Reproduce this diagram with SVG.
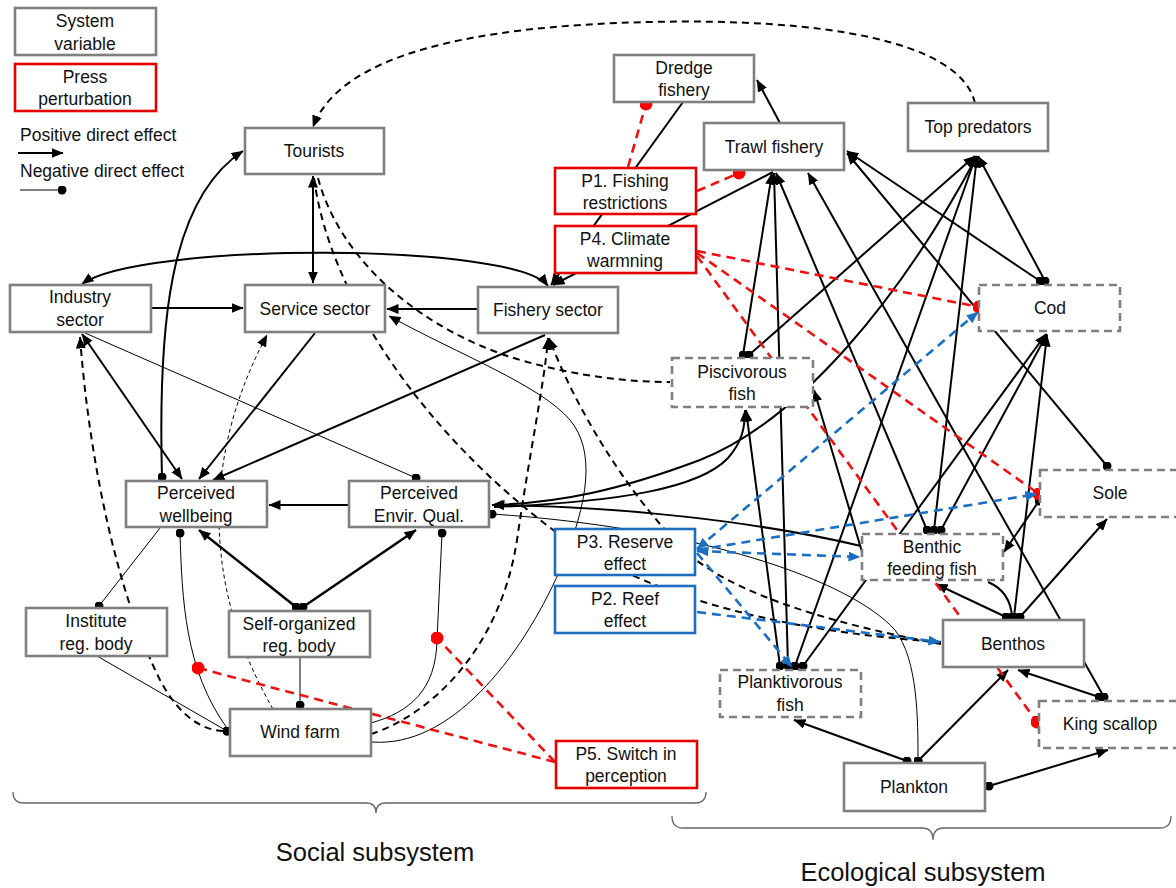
<svg xmlns="http://www.w3.org/2000/svg" width="1176" height="888" viewBox="0 0 1176 888">
<style>
text{font-family:"Liberation Sans",Arial,sans-serif;font-size:17.5px;fill:#111;text-anchor:middle}
.lg{text-anchor:start}
.big{font-size:25.5px}
.n rect{fill:#fff;stroke:#7f7f7f;stroke-width:2.6}
.n.dash rect{stroke-dasharray:8,5}
.n.red rect{stroke:#e60000}
.n.blue rect{stroke:#1f6dc0}
#connectors path{fill:none;stroke:#000}
#connectors .s{stroke-width:2}
#connectors .t{stroke-width:1}
#connectors .td{stroke-width:1;stroke-dasharray:4,3}
#connectors .d{stroke-width:2;stroke-dasharray:7,5}
#connectors .r{stroke:#ee1111;stroke-width:2.6;stroke-dasharray:9,6}
#connectors .b{stroke:#1a6fc4;stroke-width:2.6;stroke-dasharray:9,6}
.br{fill:none;stroke:#666;stroke-width:1.3}
</style>
<defs>
<marker id="ah" viewBox="0 0 12 10" refX="11.5" refY="5" markerWidth="12" markerHeight="10" markerUnits="userSpaceOnUse" orient="auto-start-reverse"><path d="M0,0 L12,5 L0,10 z" fill="#000"/></marker>
<marker id="bh" viewBox="0 0 12 10" refX="11.5" refY="5" markerWidth="12" markerHeight="10" markerUnits="userSpaceOnUse" orient="auto-start-reverse"><path d="M0,0 L12,5 L0,10 z" fill="#1a6fc4"/></marker>
<marker id="dot" viewBox="0 0 10 10" refX="5" refY="5" markerWidth="9" markerHeight="9" markerUnits="userSpaceOnUse"><circle cx="5" cy="5" r="5" fill="#000"/></marker>
<marker id="rdot" viewBox="0 0 10 10" refX="5" refY="5" markerWidth="13" markerHeight="13" markerUnits="userSpaceOnUse"><circle cx="5" cy="5" r="5" fill="#ff0000"/></marker>
</defs>
<rect width="1176" height="888" fill="#fff"/>

<g id="connectors">
<!-- solid black -->
<path class="s" d="M313,176 L313,283" marker-start="url(#ah)" marker-end="url(#ah)"/>
<path class="s" d="M151,308 L243,308" marker-end="url(#ah)"/>
<path class="s" d="M478,309 L387,309" marker-end="url(#ah)"/>
<path class="s" d="M548,286 C515,242 140,242 82,284" marker-start="url(#ah)" marker-end="url(#ah)"/>
<path class="s" d="M683,102 L551,285" marker-end="url(#ah)"/>
<path class="s" d="M773,172 L553,285" marker-end="url(#ah)"/>
<path class="s" d="M780,123 L757,80" marker-end="url(#ah)"/>
<path class="s" d="M82,334 L182,479" marker-start="url(#ah)" marker-end="url(#ah)"/>
<path class="s" d="M315,333 L199,479" marker-end="url(#ah)"/>
<path class="s" d="M545,335 L213,480" marker-end="url(#ah)"/>
<path class="s" d="M162,477 C158,330 168,200 243,151" marker-start="url(#dot)" marker-end="url(#ah)"/>
<path class="s" d="M349,505 L269,505" marker-end="url(#ah)"/>
<path class="s" style="stroke-width:2.5" d="M296,607 L199,530" marker-start="url(#dot)" marker-end="url(#ah)"/>
<path class="s" style="stroke-width:2.5" d="M303,607 L416,530" marker-start="url(#dot)" marker-end="url(#ah)"/>
<path class="s" d="M977,156 C900,300 800,420 700,460 C620,490 560,503 492,505" marker-end="url(#ah)"/>
<path class="s" d="M494,507 C620,502 700,488 728,458 C742,442 745,428 745,410" marker-end="url(#ah)"/>
<path class="s" d="M861,546 C760,522 620,506 493,505" marker-end="url(#ah)"/>
<path class="s" d="M862,552 L814,390" marker-end="url(#ah)"/>
<path class="s" d="M780,666 L746,410" marker-start="url(#dot)" marker-end="url(#ah)"/>
<path class="s" d="M788,666 L774,173" marker-start="url(#dot)" marker-end="url(#ah)"/>
<path class="s" d="M795,666 L976,156" marker-start="url(#dot)" marker-end="url(#ah)"/>
<path class="s" d="M803,666 L1046,334" marker-start="url(#dot)" marker-end="url(#ah)"/>
<path class="s" d="M743,355 L772,173" marker-start="url(#dot)" marker-end="url(#ah)"/>
<path class="s" d="M749,355 L975,156" marker-start="url(#dot)" marker-end="url(#ah)"/>
<path class="s" d="M927,530 L776,173" marker-start="url(#dot)" marker-end="url(#ah)"/>
<path class="s" d="M934,530 L977,156" marker-start="url(#dot)" marker-end="url(#ah)"/>
<path class="s" d="M941,530 L1047,334" marker-start="url(#dot)" marker-end="url(#ah)"/>
<path class="s" d="M1045,281 L978,156" marker-start="url(#dot)" marker-end="url(#ah)"/>
<path class="s" d="M1040,281 L847,151" marker-start="url(#dot)" marker-end="url(#ah)"/>
<path class="s" d="M1107,466 L847,153" marker-start="url(#dot)" marker-end="url(#ah)"/>
<path class="s" d="M1039,501 L1004,552" marker-start="url(#dot)" marker-end="url(#ah)"/>
<path class="s" d="M1006,617 L936,584" marker-start="url(#dot)" marker-end="url(#ah)"/>
<path class="s" d="M1012,617 C1011,600 1002,588 988,582" marker-start="url(#dot)"/>
<path class="s" d="M1014,617 L1047,335" marker-start="url(#dot)" marker-end="url(#ah)"/>
<path class="s" d="M1020,617 L1107,519" marker-start="url(#dot)" marker-end="url(#ah)"/>
<path class="s" d="M1104,697 L808,173" marker-start="url(#dot)" marker-end="url(#ah)"/>
<path class="s" d="M1099,697 L1018,670" marker-start="url(#dot)" marker-end="url(#ah)"/>
<path class="s" d="M907,761 L794,720" marker-start="url(#dot)" marker-end="url(#ah)"/>
<path class="s" d="M918,761 L1008,670" marker-start="url(#dot)" marker-end="url(#ah)"/>
<path class="s" d="M989,786 L1108,750" marker-start="url(#dot)" marker-end="url(#ah)"/>
<!-- thin -->
<path class="t" d="M492,514 C700,528 850,580 895,630 C918,660 918,720 918,761" marker-start="url(#dot)" marker-end="url(#dot)"/>
<path class="t" d="M85,333 L416,478" marker-end="url(#dot)"/>
<path class="t" d="M372,742 C450,748 520,660 560,570 C590,500 595,450 570,420 C540,385 460,355 389,316" marker-end="url(#ah)"/>
<path class="t" d="M371,723 C410,712 436,690 437,640 L442,533" marker-end="url(#dot)"/>
<path class="t" d="M160,528 L99,606" marker-end="url(#dot)"/>
<path class="t" d="M97,656 L227,731" marker-end="url(#dot)"/>
<path class="t" d="M180,533 C182,600 185,670 227,728" marker-start="url(#dot)"/>
<path class="t" d="M300,657 L300,705" marker-end="url(#dot)"/>
<path class="td" d="M273,709 C210,600 195,470 267,335" marker-end="url(#ah)"/>
<!-- dashed black -->
<path class="d" d="M975,103 C960,40 820,18 650,22 C470,26 340,55 313,127" marker-end="url(#ah)"/>
<path class="d" d="M80,337 C90,470 120,600 160,680 C180,718 205,732 227,731" marker-start="url(#ah)" marker-end="url(#dot)"/>
<path class="d" d="M318,178 C340,260 420,330 520,360 C580,377 630,382 670,382"/>
<path class="d" d="M314,178 C330,300 430,440 560,535 C640,590 760,630 941,642"/>
<path class="d" d="M371,734 C430,715 500,650 517,540 C530,450 545,380 548,338" marker-end="url(#ah)"/>
<path class="d" d="M941,644 C820,622 730,590 690,555 C640,510 580,420 549,338" marker-end="url(#ah)"/>
<!-- red dashed -->
<path class="r" d="M628,167 L646,104" marker-end="url(#rdot)"/>
<path class="r" d="M697,191 L739,173" marker-end="url(#rdot)"/>
<path class="r" d="M697,251 L979,307" marker-end="url(#rdot)"/>
<path class="r" d="M697,253 L1039,494" marker-end="url(#rdot)"/>
<path class="r" d="M697,256 L1037,722" marker-end="url(#rdot)"/>
<path class="r" d="M555,762 L198,668" marker-end="url(#rdot)"/>
<path class="r" d="M555,762 L437,638" marker-end="url(#rdot)"/>
<!-- blue dashed -->
<path class="b" d="M697,549 L978,312" marker-start="url(#bh)" marker-end="url(#bh)"/>
<path class="b" d="M697,550 L1037,494" marker-end="url(#bh)"/>
<path class="b" d="M697,551 L860,557" marker-start="url(#bh)" marker-end="url(#bh)"/>
<path class="b" d="M697,553 L792,667" marker-end="url(#bh)"/>
<path class="b" d="M697,612 L940,642" marker-end="url(#bh)"/>
<!-- legend samples -->
<path class="s" d="M18,153 L63,153" marker-end="url(#ah)"/>
<path class="t" d="M20,190 L62,190" marker-end="url(#dot)"/>
</g>

<g id="legend-system" class="n"><rect x="15" y="8" width="141" height="47"/><text x="85" y="27">System</text><text x="85" y="50">variable</text></g>
<g id="legend-press" class="n red"><rect x="15" y="64" width="141" height="47"/><text x="85" y="83">Press</text><text x="85" y="105">perturbation</text></g>
<text class="lg" x="20" y="141">Positive direct effect</text>
<text class="lg" x="20" y="177">Negative direct effect</text>

<g id="tourists" class="n"><rect x="245" y="128" width="139" height="46"/><text x="314" y="157">Tourists</text></g>
<g id="dredge" class="n"><rect x="614" y="55" width="140" height="47"/><text x="684" y="74">Dredge</text><text x="684" y="96">fishery</text></g>
<g id="trawl" class="n"><rect x="704" y="123" width="140" height="47"/><text x="774" y="153">Trawl fishery</text></g>
<g id="top-predators" class="n"><rect x="908" y="103" width="140" height="48"/><text x="978" y="133">Top predators</text></g>
<g id="p1" class="n red"><rect x="555" y="168" width="141" height="46"/><text x="625" y="187">P1. Fishing</text><text x="625" y="209">restrictions</text></g>
<g id="p4" class="n red"><rect x="555" y="226" width="141" height="47"/><text x="625" y="245">P4. Climate</text><text x="625" y="267">warmning</text></g>
<g id="industry" class="n"><rect x="10" y="285" width="141" height="47"/><text x="80" y="303">Industry</text><text x="80" y="326">sector</text></g>
<g id="service" class="n"><rect x="245" y="285" width="140" height="47"/><text x="315" y="315">Service sector</text></g>
<g id="fishery" class="n"><rect x="478" y="287" width="140" height="46"/><text x="548" y="316">Fishery sector</text></g>
<g id="cod" class="n dash"><rect x="979" y="285" width="141" height="46"/><text x="1050" y="314">Cod</text></g>
<g id="piscivorous" class="n dash"><rect x="672" y="358" width="141" height="49"/><text x="742" y="378">Piscivorous</text><text x="742" y="400">fish</text></g>
<g id="wellbeing" class="n"><rect x="126" y="481" width="141" height="46"/><text x="196" y="499">Perceived</text><text x="196" y="522">wellbeing</text></g>
<g id="envqual" class="n"><rect x="349" y="481" width="140" height="46"/><text x="419" y="499">Perceived</text><text x="419" y="522">Envir. Qual.</text></g>
<g id="p3" class="n blue"><rect x="555" y="529" width="140" height="46"/><text x="625" y="548">P3. Reserve</text><text x="625" y="570">effect</text></g>
<g id="benthic" class="n dash"><rect x="862" y="534" width="141" height="46"/><text x="932" y="553">Benthic</text><text x="932" y="575">feeding fish</text></g>
<g id="sole" class="n dash"><rect x="1040" y="470" width="145" height="47"/><text x="1110" y="499">Sole</text></g>
<g id="p2" class="n blue"><rect x="555" y="586" width="140" height="47"/><text x="625" y="605">P2. Reef</text><text x="625" y="627">effect</text></g>
<g id="institute" class="n"><rect x="26" y="608" width="141" height="48"/><text x="96" y="627">Institute</text><text x="96" y="650">reg. body</text></g>
<g id="selforg" class="n"><rect x="229" y="611" width="141" height="46"/><text x="299" y="630">Self-organized</text><text x="299" y="652">reg. body</text></g>
<g id="benthos" class="n"><rect x="943" y="620" width="141" height="47"/><text x="1013" y="650">Benthos</text></g>
<g id="planktivorous" class="n dash"><rect x="720" y="670" width="141" height="47"/><text x="790" y="688">Planktivorous</text><text x="790" y="711">fish</text></g>
<g id="kingscallop" class="n dash"><rect x="1039" y="701" width="145" height="47"/><text x="1110" y="730">King scallop</text></g>
<g id="windfarm" class="n"><rect x="230" y="709" width="141" height="47"/><text x="300" y="738">Wind farm</text></g>
<g id="p5" class="n red"><rect x="556" y="741" width="141" height="47"/><text x="626" y="760">P5. Switch in</text><text x="626" y="782">perception</text></g>
<g id="plankton" class="n"><rect x="844" y="763" width="141" height="48"/><text x="914" y="793">Plankton</text></g>

<g id="brackets">
<path class="br" d="M13,792 Q13,803 24,803 L366,803 Q376,803 376,813 Q376,803 386,803 L695,803 Q706,803 706,792"/>
<path class="br" d="M672,816 Q672,828 683,828 L922,828 Q933,828 933,840 Q933,828 944,828 L1160,828 Q1171,828 1171,816"/>
<text class="big" x="375" y="861">Social subsystem</text>
<text class="big" x="923" y="881">Ecological subsystem</text>
</g>
</svg>
